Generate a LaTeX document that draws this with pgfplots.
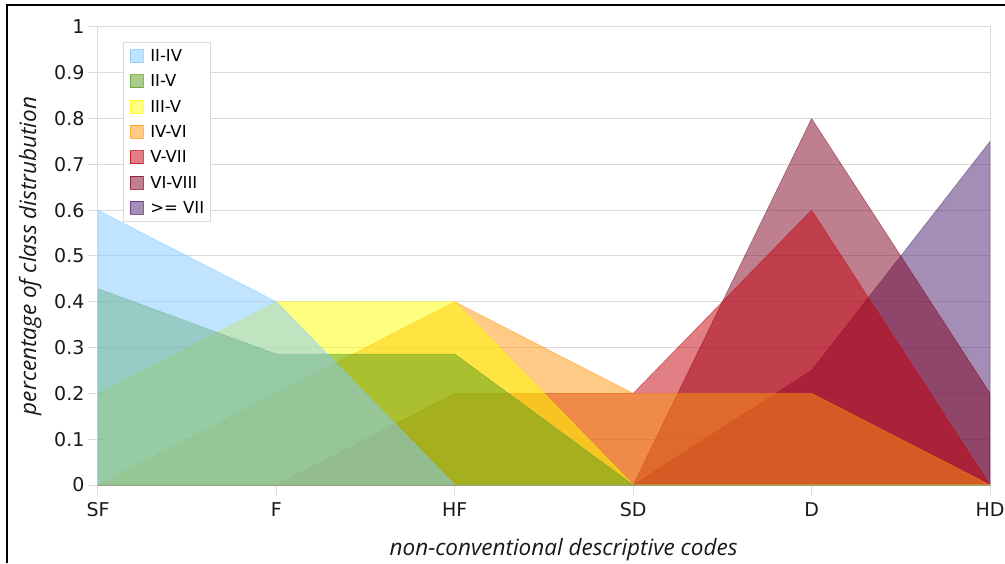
\documentclass[border=0pt]{standalone}
\usepackage{fontspec}
\setmainfont{DejaVu Sans}
\newfontfamily\opensans{Open Sans}
\usepackage{pgfplots}
\pgfplotsset{compat=1.18}
\definecolor{c1}{HTML}{83CAFF}
\definecolor{c2}{HTML}{579D1C}
\definecolor{c3}{HTML}{FFFF00}
\definecolor{c4}{HTML}{FF950E}
\definecolor{c5}{HTML}{C5000B}
\definecolor{c6}{HTML}{7E0021}
\definecolor{c7}{HTML}{4B1F6F}
\definecolor{gridc}{HTML}{DADADA}
\begin{document}
\begin{tikzpicture}[x=1pt,y=1pt]
\useasboundingbox (0,0) rectangle (1005,563);
\fill[white] (0,0) rectangle (1005,563);
\begin{axis}[
  at={(98pt,78pt)}, anchor=south west,
  scale only axis, width=892pt, height=458pt,
  xmin=0, xmax=5, ymin=0, ymax=1,
  xtick={0,1,2,3,4,5}, xticklabels={SF,F,HF,SD,D,HD},
  ytick={0,0.1,0.2,0.3,0.4,0.5,0.6,0.7,0.8,0.9,1},
  yticklabels={0,0.1,0.2,0.3,0.4,0.5,0.6,0.7,0.8,0.9,1},
  tick label style={font=\fontsize{19}{22}\selectfont, text=black!90},
  xticklabel style={yshift=-4pt},
  xtick pos=left, ytick pos=left,
  ymajorgrids, grid style={draw=gridc, line width=1pt},
  axis line style={draw=gridc, line width=1pt},
  tick style={draw=gridc, line width=1pt},
  tick align=outside, major tick length=10pt,
  xlabel={non-conventional descriptive codes},
  ylabel={percentage of class distrubution},
  label style={font=\opensans\itshape\fontsize{22.5}{26}\selectfont, text=black!90},
  xlabel style={at={(axis description cs:0.522,0)}, anchor=base, yshift=-70pt},
  ylabel style={at={(axis description cs:-0.0695,0.5)}, anchor=base},
  legend cell align=left,
  reverse legend,
  legend style={
    at={(axis description cs:0.0277,0.9672)}, anchor=north west,
    draw=gridc, line width=1pt, fill=white,
    inner xsep=6.6pt, inner ysep=6.6pt,
    font=\fontsize{16.5}{18}\selectfont,
    nodes={inner sep=0pt, text height=11.8pt, text depth=0.5pt},
    row sep=11.5pt, column sep=6.7pt,
  },
  legend image code/.code={\draw[#1, line width=0.8pt, draw opacity=0.7] (0pt,-6.5pt) rectangle (13pt,6.5pt);},
  every axis plot/.append style={line width=0.6pt, fill opacity=0.5, draw opacity=0.5},
]
\addplot[draw=c7, fill=c7] coordinates {(0,0) (1,0) (2,0) (3,0) (4,0.25) (5,0.75)} \closedcycle;
\addlegendentry{>= VII}
\addplot[draw=c6, fill=c6] coordinates {(0,0) (1,0) (2,0) (3,0) (4,0.8) (5,0.2)} \closedcycle;
\addlegendentry{VI-VIII}
\addplot[draw=c5, fill=c5] coordinates {(0,0) (1,0) (2,0.2) (3,0.2) (4,0.6) (5,0)} \closedcycle;
\addlegendentry{V-VII}
\addplot[draw=c4, fill=c4] coordinates {(0,0) (1,0.2) (2,0.4) (3,0.2) (4,0.2) (5,0)} \closedcycle;
\addlegendentry{IV-VI}
\addplot[draw=c3, fill=c3] coordinates {(0,0.2) (1,0.4) (2,0.4) (3,0) (4,0) (5,0)} \closedcycle;
\addlegendentry{III-V}
\addplot[draw=c2, fill=c2] coordinates {(0,0.4286) (1,0.2857) (2,0.2857) (3,0) (4,0) (5,0)} \closedcycle;
\addlegendentry{II-V}
\addplot[draw=c1, fill=c1] coordinates {(0,0.6) (1,0.4) (2,0) (3,0) (4,0) (5,0)} \closedcycle;
\addlegendentry{II-IV}
\end{axis}
\draw[black, line width=2.4pt] (7.2,0) -- (7.2,557.7) -- (1005,557.7);
\end{tikzpicture}
\end{document}
